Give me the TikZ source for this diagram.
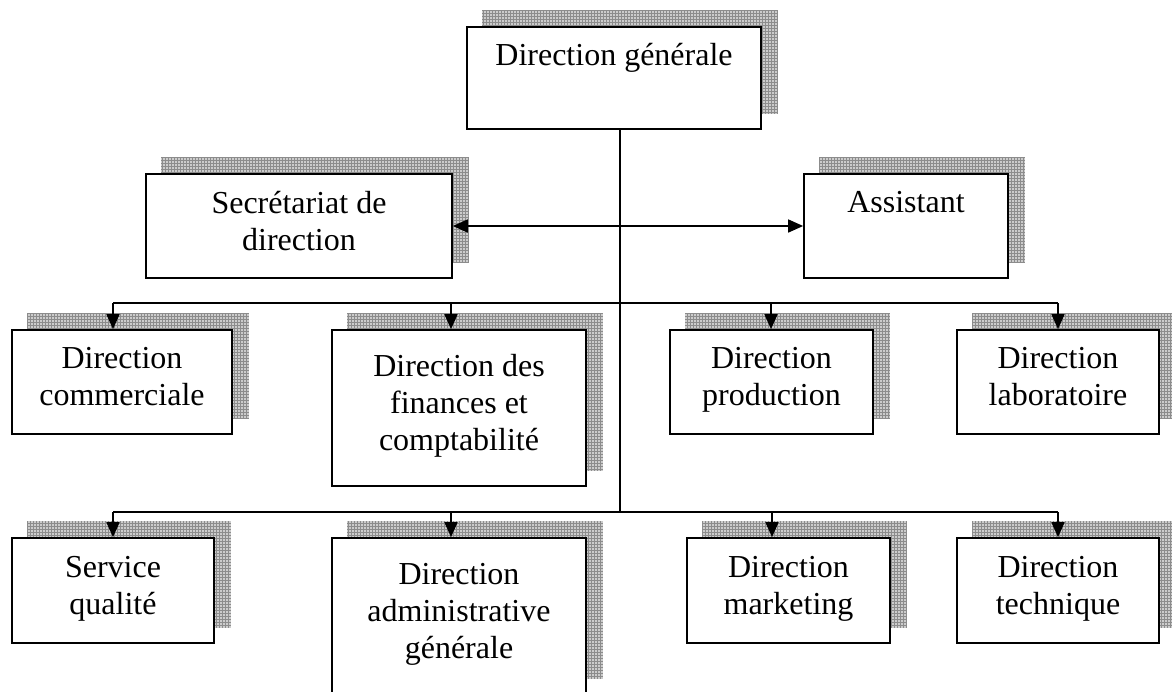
\documentclass[tikz,border=0pt]{standalone}
\usepackage{fontspec}
\setmainfont{Liberation Serif}
\usepackage{tikz}
\usetikzlibrary{calc}
\usetikzlibrary{patterns}
\usetikzlibrary{arrows.meta}
\pgfdeclarelayer{back}
\pgfsetlayers{back,main}
\newcommand{\grille}[1]{\begin{pgfonlayer}{back}\fill[black!20] ([shift={(16pt,16pt)}]#1.south west) rectangle ([shift={(16pt,16pt)}]#1.north east); \fill[pattern=grid,pattern color=black!45] ([shift={(16pt,16pt)}]#1.south west) rectangle ([shift={(16pt,16pt)}]#1.north east);\end{pgfonlayer}}
\tikzset{poste/.style={draw,line width=1.7pt,fill=white,align=center,inner sep=0pt,font=\fontsize{32}{37}\selectfont,
    execute at begin node=\strut,execute at end node=\strut},
  lien/.style={line width=1.6pt},
  fleche/.style={line width=1.6pt,-{Triangle[length=15pt,width=13pt]}},
  deuxsens/.style={line width=1.6pt,{Triangle[length=15pt,width=13pt]}-{Triangle[length=15pt,width=13pt]}}}

\begin{document}
\begin{tikzpicture}[x=1pt,y=-1pt]
    \useasboundingbox (0,0) rectangle (1172,691);
    \clip (0,0) rectangle (1172,691);
    \node[poste,minimum width=294pt,minimum height=102pt] (dg) at (614,78) {Direction générale\\\mbox{}};
    \node[poste,minimum width=306pt,minimum height=104pt] (sec) at (299,226) {Secrétariat de\\direction};
    \node[poste,minimum width=204pt,minimum height=104pt] (asst) at (906,226) {Assistant\\\mbox{}};
    
    \node[poste,minimum width=220pt,minimum height=104pt] (comm) at (122,382) {Direction\\commerciale};
    \node[poste,minimum width=254pt,minimum height=156pt] (fin) at (459,408) {Direction des\\finances et\\comptabilité};
    \node[poste,minimum width=203pt,minimum height=104pt] (prod) at (771.5,382) {Direction\\production};
    \node[poste,minimum width=202pt,minimum height=104pt] (lab) at (1058,382) {Direction\\laboratoire};
    
    \node[poste,minimum width=202pt,minimum height=105pt] (qual) at (113,590.5) {Service\\qualité};
    \node[poste,minimum width=254pt,minimum height=156pt] (admin) at (459,616) {Direction\\administrative\\générale};
    \node[poste,minimum width=203pt,minimum height=105pt] (mark) at (788.5,590.5) {Direction\\marketing};
    \node[poste,minimum width=202pt,minimum height=105pt] (tech) at (1058,590.5) {Direction\\technique};
    \foreach \n in {dg,sec,asst,comm,fin,prod,lab,qual,admin,mark,tech} \grille{\n}
    %liaisons
    \coordinate (tronc) at (620,512);
    \draw[lien] (tronc |- dg.south) -- (tronc);
    \draw[deuxsens] (sec.east) -- (asst.west);
    \draw[lien] (113,303) -- (1058,303);
    \draw[lien] (113,512) -- (1058,512);
    \foreach \x/\n in {113/comm,451/fin,771/prod,1058/lab} \draw[fleche] (\x,303) -- (\x,0 |- \n.north);
    \foreach \x/\n in {113/qual,451/admin,772/mark,1058/tech} \draw[fleche] (\x,512) -- (\x,0 |- \n.north);
\end{tikzpicture}
\end{document}
